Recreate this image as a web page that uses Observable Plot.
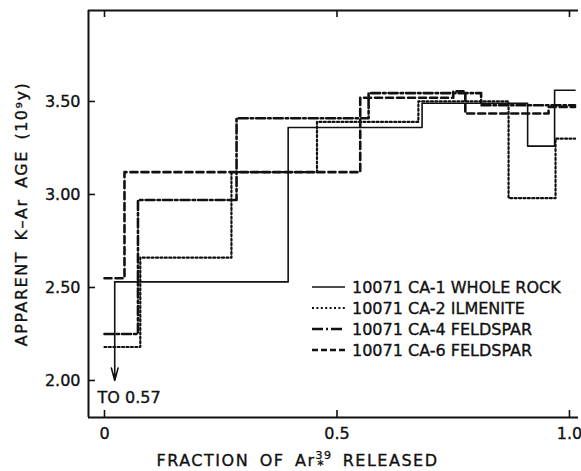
<!DOCTYPE html>
<html><head><meta charset="utf-8">
<script src="https://cdn.jsdelivr.net/npm/d3@7"></script>
<script src="https://cdn.jsdelivr.net/npm/@observablehq/plot@0.6"></script>
<style>body{margin:0;background:#fff} svg{display:block} svg text{stroke:#111;stroke-width:0.35px}</style>
</head><body><div id="chart"></div>
<script>
// ---- data ----
const xTicks = [0, 0.5, 1.0];
const xTickLabels = ["0", "0.5", "1.0"];
const yTicks = [2.0, 2.5, 3.0, 3.5];
const yTickLabels = ["2.00", "2.50", "3.00", "3.50"];

// step edges (fraction of Ar39 released) and apparent ages (10^9 y)
const ca1Edges = [0.022, 0.395, 0.683, 0.910, 0.968, 1.012];
const ca1Ages  = [2.53, 3.36, 3.49, 3.26, 3.56];
const ca1FirstAge = 0.57; // first step, off scale (arrow)
const ca2Edges = [0, 0.077, 0.273, 0.457, 0.675, 0.869, 0.970, 1.012];
const ca2Ages  = [2.18, 2.66, 3.12, 3.39, 3.50, 2.98, 3.30];
const ca4Edges = [0, 0.072, 0.284, 0.568, 0.810, 1.012];
const ca4Ages  = [2.25, 2.97, 3.41, 3.545, 3.48];
const ca6Edges = [0, 0.043, 0.550, 0.750, 0.776, 0.955, 1.012];
const ca6Ages  = [2.55, 3.12, 3.52, 3.555, 3.435, 3.47];

const seriesNames = ["10071 CA-1 WHOLE ROCK", "10071 CA-2 ILMENITE", "10071 CA-4 FELDSPAR", "10071 CA-6 FELDSPAR"];
const yTitle = "APPARENT K\u2013Ar AGE (10\u2079y)";
const xTitle = "FRACTION OF Ar\u00b3\u2079 RELEASED";

// ---- layout / style ----
const W = 581, H = 471;
const mL = 88, mR = 3, mT = 10, mB = 54;
const innerW = W - mL - mR, innerH = H - mT - mB;
const xDomain = [-0.0344, 1.0194];
const yDomain = [1.801, 3.989];
const styles = [
  {dash: null, width: 1.6},
  {dash: "2,2.4", width: 2.2},
  {dash: "9,3,2.5,3", width: 2.6},
  {dash: "7,4", width: 2.6}
];
const FONT = "DejaVu Sans";

function stepPoints(edges, ages) {
  const pts = ages.map((a, i) => ({x: edges[i], y: a}));
  pts.push({x: edges[edges.length - 1], y: ages[ages.length - 1]});
  return pts;
}
const series = [
  stepPoints(ca1Edges, ca1Ages),
  stepPoints(ca2Edges, ca2Ages),
  stepPoints(ca4Edges, ca4Ages),
  stepPoints(ca6Edges, ca6Ages)
];

const plot = Plot.plot({
  width: W, height: H,
  marginLeft: mL, marginRight: mR, marginTop: mT, marginBottom: mB,
  style: {fontFamily: FONT, fontSize: "16px", color: "#111", background: "#fff"},
  x: {domain: xDomain},
  y: {domain: yDomain},
  marks: [
    // frame (no right side)
    Plot.ruleX([xDomain[0]], {stroke: "#111", strokeWidth: 2}),
    Plot.ruleY(yDomain, {stroke: "#111", strokeWidth: 2}),
    // inward ticks
    Plot.tickX(xTicks, {x: d => d, insetTop: innerH - 7, stroke: "#111", strokeWidth: 1.6}),
    Plot.tickX(xTicks, {x: d => d, insetBottom: innerH - 7, stroke: "#111", strokeWidth: 1.6}),
    Plot.tickY(yTicks, {y: d => d, insetRight: innerW - 7, stroke: "#111", strokeWidth: 1.6}),
    Plot.axisX({ticks: xTicks, tickSize: 0, tickPadding: 10, tickFormat: d => xTickLabels[xTicks.indexOf(d)], label: null, fontSize: 16}),
    Plot.axisY({ticks: yTicks, tickSize: 0, tickPadding: 8, tickFormat: d => yTickLabels[yTicks.indexOf(d)], label: null, fontSize: 16}),
    // step lines
    ...series.map((s, i) => Plot.line(s, {
      x: "x", y: "y", curve: "step-after", stroke: "#111",
      strokeWidth: styles[i].width, strokeDasharray: styles[i].dash
    })),
    // off-scale first step of CA-1
    Plot.arrow([{x: ca1Edges[0], y1: ca1Ages[0], y2: yTicks[0]}], {
      x: "x", y1: "y1", y2: "y2", stroke: "#111", strokeWidth: 1.6, headLength: 12, headAngle: 30
    }),
    Plot.text([ca1FirstAge], {text: d => `TO ${d}`, frameAnchor: "bottom-left", dx: 9, dy: -20,
      textAnchor: "start", lineAnchor: "middle", fontSize: 16, fill: "#111"}),
    // titles
    Plot.text([yTitle], {text: d => d, frameAnchor: "left", dx: -67, rotate: -90,
      textAnchor: "middle", fontSize: 16, fill: "#111", lineAnchor: "middle"}),
    Plot.text([xTitle], {text: d => d, frameAnchor: "bottom", dx: -36, dy: 43,
      textAnchor: "middle", fontSize: 16, fill: "#111", lineAnchor: "middle"})
  ]
});

const svg = d3.select(plot);
// letter spacing on titles + superscript/subscript for Ar
svg.selectAll("text").each(function() {
  const t = d3.select(this);
  const s = t.text();
  if (s === yTitle) {
    t.style("letter-spacing", "1.5px").style("word-spacing", "4px");
  }
  if (s === xTitle) {
    t.style("letter-spacing", "1.5px").style("word-spacing", "4px");
    const tspan = t.select("tspan").empty() ? t : t.select("tspan");
    tspan.text(null);
    tspan.append("tspan").text("FRACTION OF Ar");
    tspan.append("tspan").attr("dy", -7).attr("font-size", 11).text("39");
    tspan.append("tspan").attr("dx", -15).attr("dy", 10).attr("font-size", 12).text("*");
    tspan.append("tspan").attr("dx", 7).attr("dy", -3).text(" RELEASED");
  }
});

// legend
const leg = svg.append("g").attr("font-family", FONT).attr("font-size", 16).attr("fill", "#111")
  .attr("text-anchor", "start");
const rowY = [287, 308, 329, 350];
seriesNames.forEach((name, i) => {
  leg.append("line").attr("x1", 312).attr("x2", 345).attr("y1", rowY[i]).attr("y2", rowY[i])
    .attr("stroke", "#111").attr("stroke-width", styles[i].width)
    .attr("stroke-dasharray", i === 3 ? "6,3" : (i === 2 ? "11,3,2,3" : styles[i].dash));
  leg.append("text").attr("x", 352).attr("y", rowY[i]).attr("dy", "0.36em")
    .attr("text-anchor", "start").text(name);
});

document.getElementById("chart").appendChild(plot);
</script>
</body></html>
